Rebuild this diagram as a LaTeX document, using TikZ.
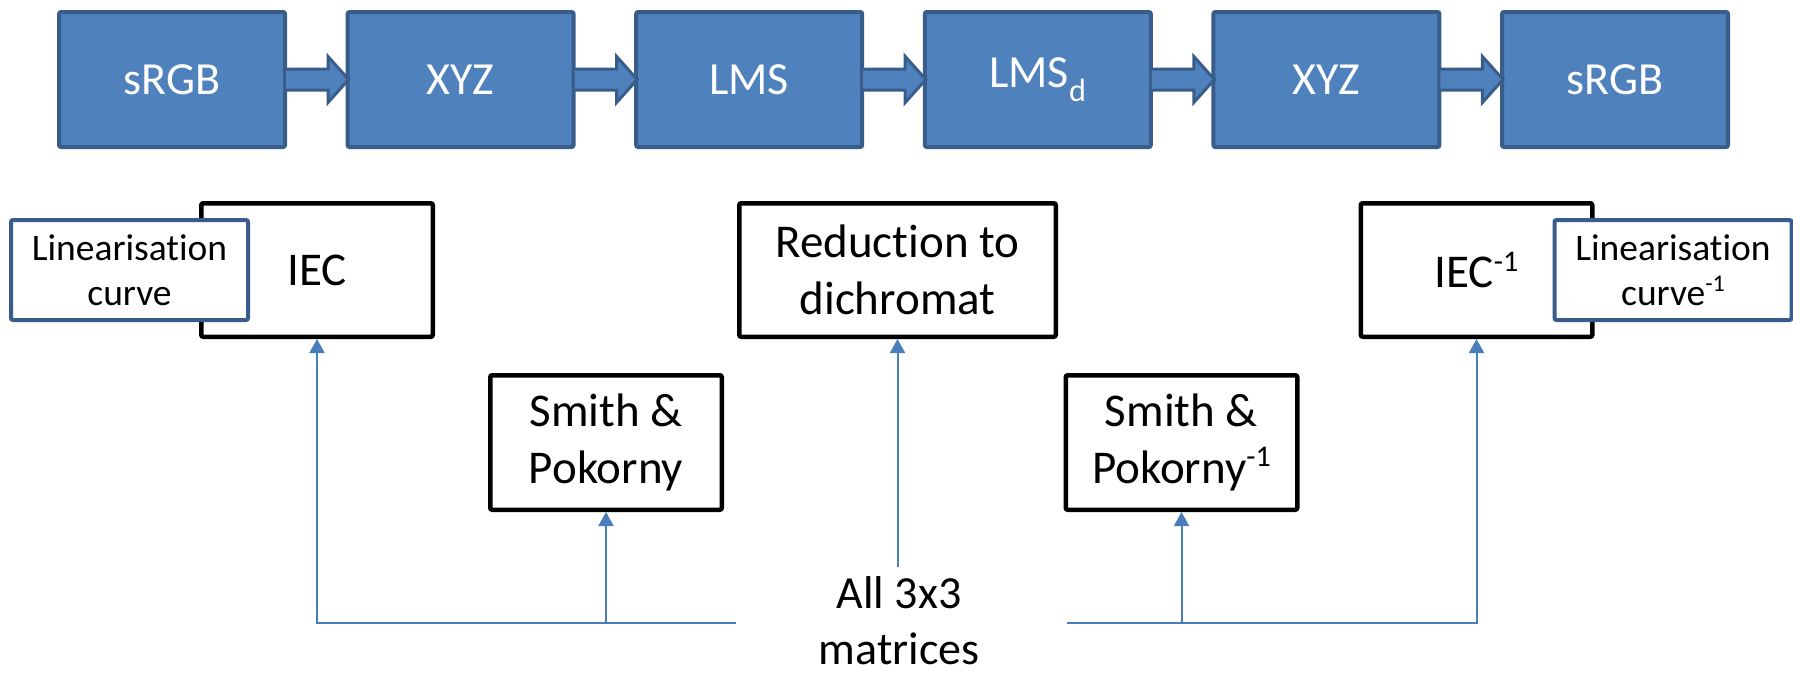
\documentclass[tikz,border=0pt]{standalone}
\usepackage{fontspec}
\setmainfont{Carlito}[Ligatures=NoCommon]
\usetikzlibrary{arrows.meta,calc}
\definecolor{topfill}{HTML}{4F81BD}
\definecolor{topline}{HTML}{385D8A}
\definecolor{conncol}{HTML}{4A7EBB}
\newcommand{\supm}{\raisebox{0.36em}{\scalebox{0.64}{-1}}}
\tikzset{
  topbox/.style={draw=topline, fill=topfill, line width=4pt, rounded corners=2pt,
    minimum width=226pt, minimum height=135pt, inner sep=0pt, text=white,
    font=\fontsize{46}{56}\selectfont},
  blkbox/.style={draw=black, fill=white, line width=4.5pt, rounded corners=2pt,
    inner sep=0pt, align=center, font=\fontsize{47}{57}\selectfont},
  linbox/.style={draw=topline, fill=white, line width=4pt, rounded corners=2pt,
    minimum width=237pt, minimum height=100pt, inner sep=0pt, align=center,
    font=\fontsize{37.5}{45}\selectfont},
  conn/.style={draw=conncol, line width=2pt, line join=miter,
    -{Triangle[width=15pt,length=14pt]}},
  barrow/.style={fill=topfill, draw=topline, line width=3pt, line join=miter},
  mattext/.style={align=center, inner sep=0pt, font=\fontsize{46}{56}\selectfont},
}
\begin{document}
\begin{tikzpicture}[x=1pt,y=-1pt]
\useasboundingbox (0,0) rectangle (1793,672);

% top row
\node[topbox] (t1) at (172,79.5) {sRGB};
\node[topbox] (t2) at (460.6,79.5) {XYZ};
\node[topbox] (t3) at (749.2,79.5) {LMS};
\node[topbox] (t4) at (1037.8,79.5) {LMS\textsubscript{d}};
\node[topbox] (t5) at (1326.4,79.5) {XYZ};
\node[topbox] (t6) at (1615,79.5) {sRGB};

\foreach \a/\b in {t1/t2,t2/t3,t3/t4,t4/t5,t5/t6}{
  \filldraw[barrow] ($(\a.east)+(-1,-10.5)$) -- ($(\a.east)+(41,-10.5)$)
    -- ($(\a.east)+(41,-23)$) -- ($(\b.west)+(3,0)$)
    -- ($(\a.east)+(41,23)$) -- ($(\a.east)+(41,10.5)$)
    -- ($(\a.east)+(-1,10.5)$);
}

% processing boxes
\node[blkbox, minimum width=231.5pt, minimum height=133.5pt] (iec) at (317,270) {IEC};
\node[linbox] (lin) at (129.5,270) {Linearisation\\curve};
\node[blkbox, minimum width=316.5pt, minimum height=133.5pt] (red) at (897.5,270) {Reduction to\\dichromat};
\node[blkbox, minimum width=231.5pt, minimum height=134.5pt] (sp) at (606,442.5) {Smith \&\\Pokorny};
\node[blkbox, minimum width=231.5pt, minimum height=134.5pt] (spi) at (1181.5,442.5) {Smith \&\\Pokorny\supm};
\node[blkbox, minimum width=231.5pt, minimum height=133.5pt] (ieci) at (1476.5,270) {IEC\supm};
\node[linbox] (lini) at (1673,270) {Linearisation\\curve\supm};

% matrices
\node[mattext] (mat) at (899,621) {All 3x3\\matrices};
\coordinate (hL) at (736,623);
\coordinate (hR) at (1067,623);
\coordinate (mtop) at (897.5,567);

\draw[conn] (hL) -- (hL -| iec.south) -- (iec.south);
\draw[conn] (hL -| sp.south) -- (sp.south);
\draw[conn] (mtop) -- (red.south);
\draw[conn] (hR) -- (hR -| ieci.south) -- (ieci.south);
\draw[conn] (hR -| spi.south) -- (spi.south);
\end{tikzpicture}
\end{document}
